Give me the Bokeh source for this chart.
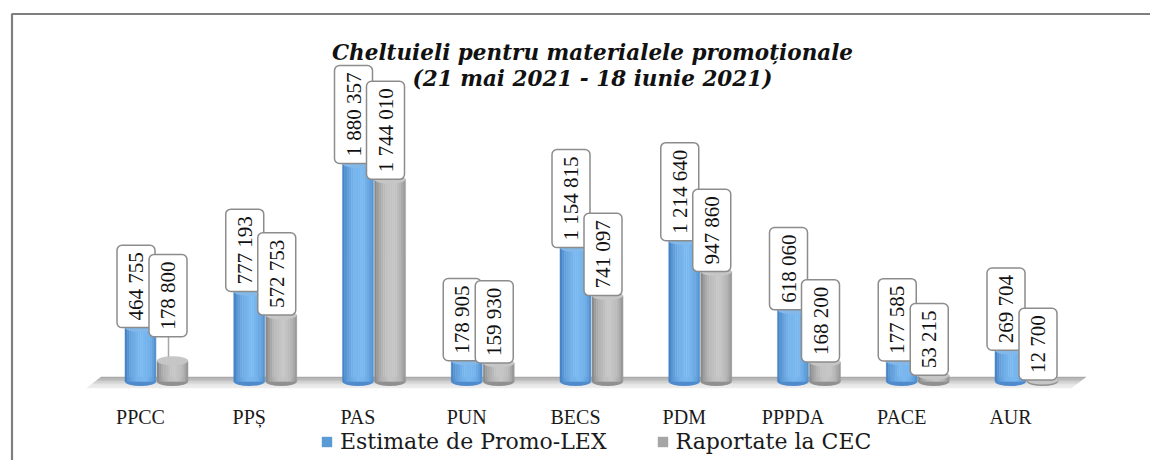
import math
import numpy as np
from bokeh.plotting import figure
from bokeh.models import ColumnDataSource, Legend, LegendItem, Range1d
from bokeh.core.properties import value
from bokeh.embed import file_html
from bokeh.resources import INLINE

# ---------------- data ----------------
categories = ["PPCC", "PPȘ", "PAS", "PUN", "BECS", "PDM", "PPPDA", "PACE", "AUR"]
estimate_promolex = [464755, 777193, 1880357, 178905, 1154815, 1214640, 618060, 177585, 269704]
reported_cec = [178800, 572753, 1744010, 159930, 741097, 947860, 168200, 53215, 12700]
series_names = ["Estimate de Promo-LEX", "Raportate la CEC"]
title_lines = ["Cheltuieli pentru materialele promoționale", "(21 mai 2021 - 18 iunie 2021)"]

# ---------------- layout constants (pixels) ----------------
FIG_W, FIG_H = 1150, 460
PX_PER_CAT = 108.75
FIRST_CAT_PX = 140.0
BASE_PX = 381.0          # baseline, from top of figure
VAL_PER_PX = 8626.0      # value units per pixel

def xd(px):
    return (px - FIRST_CAT_PX) / PX_PER_CAT

def yd(py):
    return (BASE_PX - py) * VAL_PER_PX

def wpx(px):
    return px / PX_PER_CAT

def hpx(px):
    return px * VAL_PER_PX

p = figure(width=FIG_W, height=FIG_H,
           x_range=Range1d(-FIRST_CAT_PX / PX_PER_CAT, (FIG_W - FIRST_CAT_PX) / PX_PER_CAT),
           y_range=Range1d(-(FIG_H - BASE_PX) * VAL_PER_PX, BASE_PX * VAL_PER_PX),
           output_backend="svg", toolbar_location=None,
           x_axis_location=None, y_axis_location=None,
           min_border=0)
p.grid.visible = False
p.outline_line_color = None
p.background_fill_color = "white"
p.border_fill_color = "white"

# ---------------- frame border ----------------
p.line(x=[xd(11.5), xd(11.5), xd(1170)], y=[yd(480), yd(13.5), yd(13.5)],
       line_color="#7f7f7f", line_width=2.2)

# ---------------- floor ----------------
def xl(py):
    return 100 - (py - 377) * 1.3

def xr(py):
    return 1086 - (py - 376) * 1.33

bands = [376.5, 378, 379.5, 381, 382.5, 384, 385.5, 387.5]
band_cols = ["#a9a9a9", "#b6b6b6", "#c3c3c3", "#d0d0d0", "#dcdcdc", "#e6e6e6", "#ececec"]
fxs, fys = [], []
for a, b in zip(bands[:-1], bands[1:]):
    fxs.append([xd(xl(a)), xd(xr(a)), xd(xr(b)), xd(xl(b))])
    fys.append([yd(a), yd(a), yd(b), yd(b)])
p.patches(xs=fxs, ys=fys, fill_color=band_cols, line_color=band_cols, line_width=0.5)

# ---------------- cylinders ----------------
BAR_W = wpx(31)
OFFSETS = [0.0, wpx(32)]
N_STRIPS = 14
shades = [
    dict(left=(56, 116, 184), peak=(122, 184, 240), right=(70, 132, 198),
         top="#82b8ea", bottom="#4f8bcc", legend="#5b9bd5"),
    dict(left=(120, 120, 120), peak=(198, 198, 198), right=(136, 136, 136),
         top="#c6c6c6", bottom="#909090", legend="#a5a5a5"),
]

def strip_color(sh, t, tp=0.58):
    if t < tp:
        f = math.sin(math.pi / 2 * t / tp)
        e = sh["left"]
    else:
        f = math.sin(math.pi / 2 * (1 - t) / (1 - tp))
        e = sh["right"]
    f = f ** 0.6
    c = [int(round(e[k] + (sh["peak"][k] - e[k]) * f)) for k in range(3)]
    return "#%02x%02x%02x" % tuple(c)

legend_renderers = []
for s, vals in enumerate([estimate_promolex, reported_cec]):
    sh = shades[s]
    centers = np.arange(len(categories)) + OFFSETS[s]
    p.ellipse(x=centers, y=[0] * len(vals), width=BAR_W, height=9, height_units="screen",
              fill_color=sh["bottom"], line_color=None)
    xs, tops, cols = [], [], []
    for j in range(N_STRIPS):
        t = (j + 0.5) / N_STRIPS
        col = strip_color(sh, t)
        for c, v in zip(centers, vals):
            xs.append(c + (t - 0.5) * BAR_W)
            tops.append(v)
            cols.append(col)
    src = ColumnDataSource(dict(x=xs, top=tops, col=cols))
    p.vbar(x="x", top="top", bottom=0, width=BAR_W / N_STRIPS * 1.08, source=src,
           fill_color="col", line_color="col", line_width=0.3)
    p.ellipse(x=centers, y=vals, width=BAR_W, height=9, height_units="screen",
              fill_color=sh["top"], line_color=None)
    # renderer used only for the legend swatch (placed outside the visible range)
    r = p.vbar(x=[-100], top=[1], bottom=0, width=0.1, fill_color=sh["legend"], line_color=None)
    legend_renderers.append(r)

# ---------------- value labels ----------------
def fmt(v):
    return "{:,}".format(v).replace(",", " ")

label_lift_px = {("PPCC", 1): 24}
for s, vals in enumerate([estimate_promolex, reported_cec]):
    lx, ly, lt = [], [], []
    for i, (cat, v) in enumerate(zip(categories, vals)):
        lift = label_lift_px.get((cat, s), 0)
        c = i + OFFSETS[s]
        lx.append(c - wpx(4.5))
        ly.append(v + hpx(lift))
        lt.append(fmt(v))
        if lift:
            p.segment(x0=[c - wpx(4)], y0=[v + hpx(4)], x1=[c - wpx(4)], y1=[v + hpx(lift)],
                      line_color="#a6a6a6", line_width=1.5)
    p.text(x=lx, y=ly, text=lt, angle=math.pi / 2,
           text_align="left", text_baseline="middle",
           text_font=value("Liberation Serif"), text_font_size="21px", text_color="#111111",
           background_fill_color="white", border_line_color="#8c8c8c", border_line_width=1.5,
           border_radius=5, padding=dict(left=7, right=7, top=7, bottom=7))

# ---------------- category labels ----------------
p.text(x=list(range(len(categories))), y=[yd(416)] * len(categories), text=categories,
       text_align="center", text_baseline="alphabetic",
       text_font=value("Liberation Serif"), text_font_size="20px", text_color="#1a1a1a")

# ---------------- title ----------------
p.text(x=[xd(592), xd(592)], y=[yd(52), yd(78)], text=title_lines,
       text_align="center", text_baseline="alphabetic",
       text_font=value("DejaVu Serif"), text_font_size="21.5px",
       text_font_style="bold italic", text_color="#111111")

# ---------------- legend ----------------
legend = Legend(items=[LegendItem(label=series_names[k], renderers=[legend_renderers[k]])
                       for k in range(2)],
                orientation="horizontal", location=(320, 6),
                label_text_font="DejaVu Serif", label_text_font_size="22px",
                label_text_color="#1a1a1a",
                glyph_width=13, glyph_height=13, label_standoff=7, spacing=49,
                padding=0, margin=0, border_line_color=None, background_fill_alpha=0)
p.add_layout(legend)

open("out.html", "w").write(file_html(p, INLINE))
